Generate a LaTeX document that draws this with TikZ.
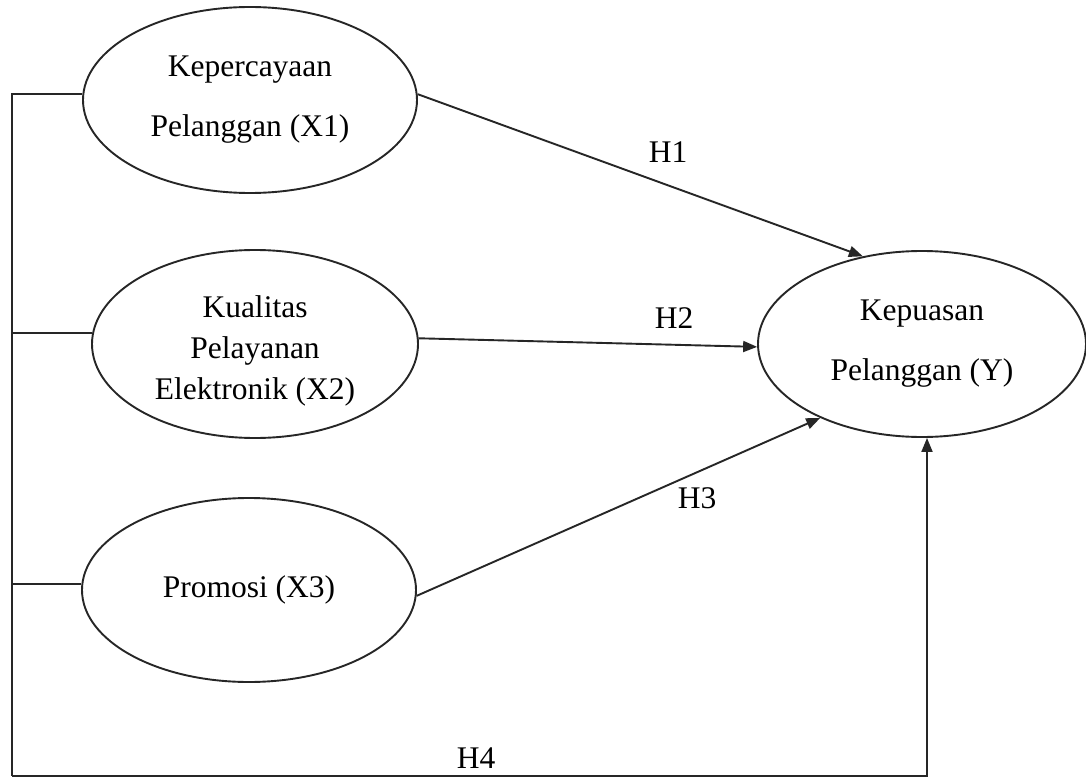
\documentclass[tikz,border=0pt]{standalone}
\usepackage{fontspec}
\setmainfont{Liberation Serif}
\usetikzlibrary{shapes.geometric,arrows.meta}
\begin{document}
\begin{tikzpicture}[x=1pt,y=-1pt,
  line width=1.9pt,
  oval/.style={draw=black!85, ellipse, inner sep=0pt, align=center,
    font=\fontsize{31.5}{60}\selectfont},
  hlabel/.style={font=\fontsize{31.5}{38}\selectfont, anchor=base, inner sep=0pt},
  conn/.style={draw=black!85},
  arr/.style={draw=black!85, -{Triangle[length=14pt,width=11pt]}}
]
\useasboundingbox (0,0) rectangle (1086,778);
\fill[white] (0,0) rectangle (1086,778);

\node[oval, minimum width=334pt, minimum height=186pt] (x1) at (250,100)
  {Kepercayaan\\Pelanggan (X1)};
\node[oval, minimum width=326pt, minimum height=188pt,
  font=\fontsize{31.5}{41}\selectfont] (x2) at (255,344)
  {\\[-6pt]Kualitas\\Pelayanan\\Elektronik (X2)};
\node[oval, minimum width=334pt, minimum height=184pt] (x3) at (249,590)
  {Promosi (X3)};
\node[oval, minimum width=328pt, minimum height=186pt] (y) at (922,344)
  {Kepuasan\\Pelanggan (Y)};

\coordinate (sp) at (12,776);
\coordinate (c4) at (927,776);

% left spine
\draw[conn] (x1.178) -- (x1.178 -| sp) -- (sp);
\draw[conn] (x2.176) -- (x2.176 -| sp);
\draw[conn] (x3.178) -- (x3.178 -| sp);
\draw[arr] (sp) -- (c4) -- (y.south -| c4);

% hypotheses
\draw[arr] (x1.2) -- (y.124);
\draw[arr] (x2.2) -- (y.181);
\draw[arr] (x3.358) -- (y.216);

\node[hlabel] (h1) at (668,163) {H1};
\node[hlabel] (h2) at (674,328) {H2};
\node[hlabel] (h3) at (697,508) {H3};
\node[hlabel] (h4) at (476,768) {H4};
\end{tikzpicture}
\end{document}
